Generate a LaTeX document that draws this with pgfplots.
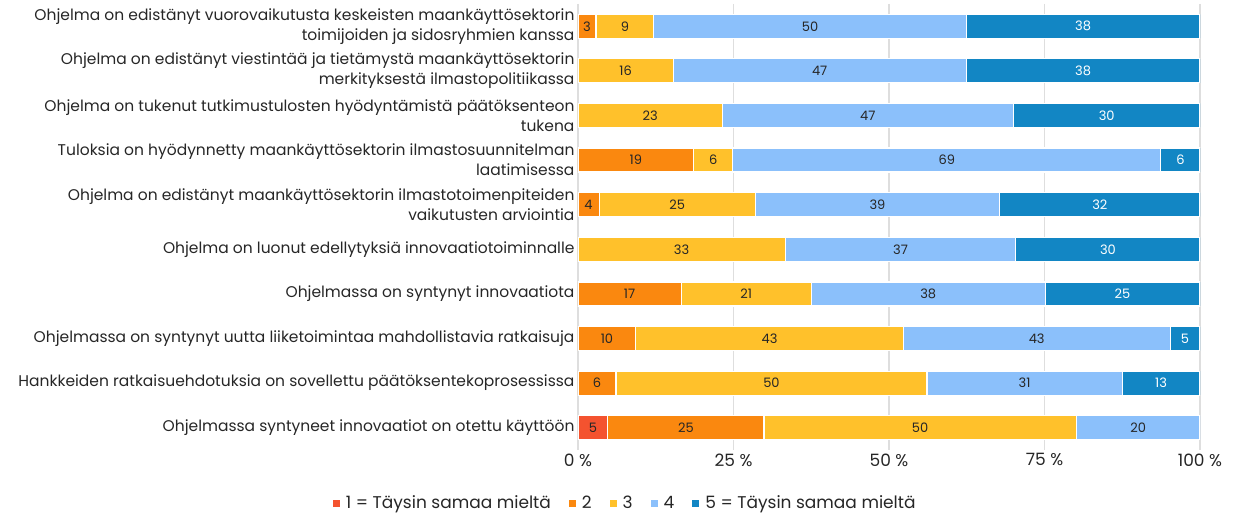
\documentclass[border=0pt]{standalone}
\usepackage{pgfplots}
\pgfplotsset{compat=1.18}
\usepackage{pgfplotstable}
\usepackage{fontspec}
\setmainfont{Poppins}
\definecolor{c1}{HTML}{F4532F}
\definecolor{c2}{HTML}{FA880F}
\definecolor{c3}{HTML}{FFC12B}
\definecolor{c4}{HTML}{8BC0FB}
\definecolor{c5}{HTML}{1286C4}
\definecolor{txt}{HTML}{262626}
\pgfplotstableread{
y c1 c2 c3 c4 c5 l1 l2 l3 l4 l5
0 0 2.9 9.3 50.2 37.6 {} 3 9 50 38
1 0 0 15.3 47.1 37.6 {} {} 16 47 38
2 0 0 23.2 46.8 30.0 {} {} 23 47 30
3 0 18.6 6.3 68.8 6.3 {} 19 6 69 6
4 0 3.4 25.1 39.3 32.2 {} 4 25 39 32
5 0 0 33.3 37.1 29.6 {} {} 33 37 30
6 0 16.6 20.9 37.6 24.9 {} 17 21 38 25
7 0 9.3 43.0 42.9 4.8 {} 10 43 43 5
8 0 6.1 50.0 31.4 12.5 {} 6 50 31 13
9 4.8 25.1 50.2 19.9 0 5 25 50 20 {}
}\data
\begin{document}
\begin{tikzpicture}
\path[use as bounding box] (-578bp,-65bp) rectangle (658bp,450bp);
\begin{axis}[
  at={(0,0)}, anchor=south west,
  scale only axis, width=622bp, height=446bp,
  xbar stacked, bar width=24bp,
  xmin=0, xmax=100, ymin=-0.5, ymax=9.5, y dir=reverse,
  xtick={0,25,50,75,100},
  xticklabels={0 \%,25 \%,50 \%,75 \%,100 \%},
  xticklabel style={font=\fontsize{17bp}{20bp}\selectfont, text=txt},
  ytick={0,...,9},
  yticklabels={
    {Ohjelma on edistänyt vuorovaikutusta keskeisten maankäyttösektorin\\toimijoiden ja sidosryhmien kanssa},
    {Ohjelma on edistänyt viestintää ja tietämystä maankäyttösektorin\\merkityksestä ilmastopolitiikassa},
    {Ohjelma on tukenut tutkimustulosten hyödyntämistä päätöksenteon\\tukena},
    {Tuloksia on hyödynnetty maankäyttösektorin ilmastosuunnitelman\\laatimisessa},
    {Ohjelma on edistänyt maankäyttösektorin ilmastotoimenpiteiden\\vaikutusten arviointia},
    {Ohjelma on luonut edellytyksiä innovaatiotoiminnalle},
    {Ohjelmassa on syntynyt innovaatiota},
    {Ohjelmassa on syntynyt uutta liiketoimintaa mahdollistavia ratkaisuja},
    {Hankkeiden ratkaisuehdotuksia on sovellettu päätöksentekoprosessissa},
    {Ohjelmassa syntyneet innovaatiot on otettu käyttöön}},
  yticklabel style={font=\fontsize{15.5bp}{20bp}\selectfont, text=txt, align=right},
  axis line style={draw=none},
  tick style={draw=none},
  xmajorgrids, grid style={draw=black!13, line width=1.2bp},
  point meta=explicit symbolic,
  nodes near coords,
  nodes near coords style={font=\fontsize{13bp}{15bp}\selectfont, text=txt, anchor=center},
  every axis plot/.append style={draw=white, line width=1.2bp},
  legend style={at={(0.076,-0.119)}, anchor=center, draw=none, font=\fontsize{17bp}{20bp}\selectfont, text=txt,
    /tikz/every odd column/.append style={column sep=4bp},
    /tikz/every even column/.append style={column sep=16bp}},
  legend columns=-1,
  legend image code/.code={\fill[#1,draw=none] (0bp,-3.5bp) rectangle (7bp,3.5bp);},
]
\addplot[fill=c1] table[x=c1, y=y, meta=l1] {\data};
\addplot[fill=c2] table[x=c2, y=y, meta=l2] {\data};
\addplot[fill=c3] table[x=c3, y=y, meta=l3] {\data};
\addplot[fill=c4] table[x=c4, y=y, meta=l4] {\data};
\addplot[fill=c5, nodes near coords style={text=white}] table[x=c5, y=y, meta=l5] {\data};
\legend{1 = Täysin samaa mieltä, 2, 3, 4, 5 = Täysin samaa mieltä}
\end{axis}
\end{tikzpicture}
\end{document}
